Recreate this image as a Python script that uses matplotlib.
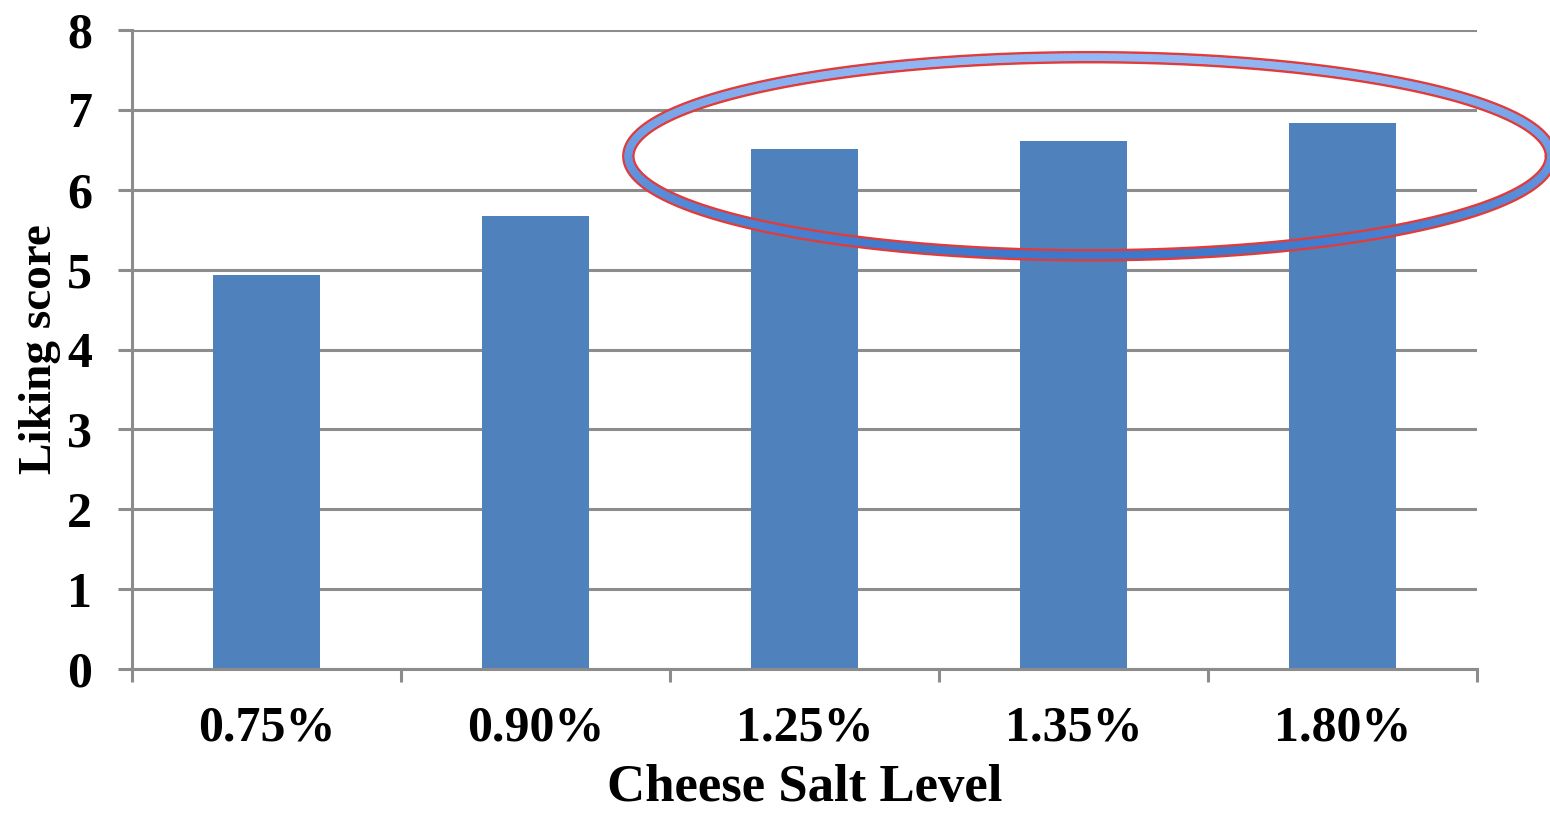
import numpy as np
import matplotlib.pyplot as plt
from matplotlib.collections import LineCollection

salt_levels = ["0.75%", "0.90%", "1.25%", "1.35%", "1.80%"]
liking_scores = [4.93, 5.67, 6.51, 6.61, 6.83]
y_ticks = [0, 1, 2, 3, 4, 5, 6, 7, 8]

BAR_COLOR = "#4f81bd"
GRID_COLOR = "#8c8c8c"
FONT = ["Liberation Serif", "DejaVu Serif"]

plt.rcParams['font.family'] = FONT
plt.rcParams['font.weight'] = "bold"

fig = plt.figure(figsize=(15.5, 8.14), dpi=100)
ax = fig.add_axes([0.0852, 0.1781, 0.8677, 0.785])

x = np.arange(len(salt_levels))
ax.bar(x, liking_scores, width=0.4, color=BAR_COLOR, zorder=2)

ax.set_xlim(-0.5, len(salt_levels) - 0.5)
ax.set_ylim(0, 8)
ax.set_yticks(y_ticks)
ax.set_yticklabels([str(t) for t in y_ticks], fontsize=36, fontweight="bold")
ax.set_xticks(x)
ax.set_xticklabels(salt_levels, fontsize=36, fontweight="bold")
ax.set_xticks(np.arange(len(salt_levels) + 1) - 0.5, minor=True)

# horizontal grid, gray spines
ax.yaxis.grid(True, color=GRID_COLOR, linewidth=2.2, zorder=0)
ax.set_axisbelow(True)
for side in ["top", "right"]:
    ax.spines[side].set_visible(False)
for side in ["left", "bottom"]:
    ax.spines[side].set_color(GRID_COLOR)
    ax.spines[side].set_linewidth(2.2)

ax.tick_params(axis="y", direction="out", length=10, width=2.2, color=GRID_COLOR, pad=19)
ax.tick_params(axis="x", which="major", length=0, pad=26)
ax.tick_params(axis="x", which="minor", direction="out", length=9, width=2.2, color=GRID_COLOR)

ax.set_xlabel("Cheese Salt Level", fontsize=38, fontweight="bold", labelpad=9)
ax.set_ylabel("Liking score", fontsize=34, fontweight="bold", labelpad=4)

# highlight ring around the three highest salt levels
cx, cy, w, h = 3.06, 6.42, 3.43, 2.48
t = np.linspace(0, 2 * np.pi, 721)
ex = cx + w / 2 * np.cos(t)
ey = cy + h / 2 * np.sin(t)
ax.plot(ex, ey, color="#e03c3c", linewidth=9, clip_on=False, zorder=4,
        solid_capstyle="round")
pts = np.column_stack([ex, ey]).reshape(-1, 1, 2)
segs = np.concatenate([pts[:-1], pts[1:]], axis=1)
shade = (np.sin(t[:-1]) + 1) / 2
light = np.array([0.58, 0.72, 0.96])
dark = np.array([0.24, 0.47, 0.80])
cols = dark[None, :] + (light - dark)[None, :] * shade[:, None]
lc = LineCollection(segs, colors=cols, linewidths=5.5, clip_on=False, zorder=5,
                    capstyle="round")
ax.add_collection(lc)

fig.savefig("out.png", dpi=100)
